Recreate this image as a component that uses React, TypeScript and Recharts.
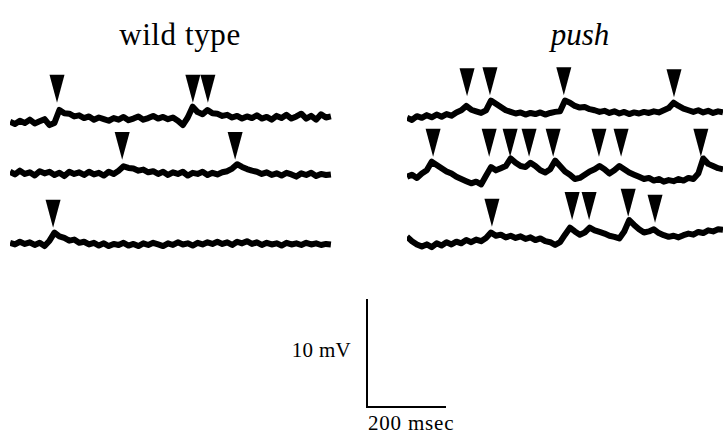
import { ComposedChart, LineChart, Line, Scatter, XAxis, YAxis } from 'recharts';

const SAMPLE_MS = 12.5;

// figure scale (px per unit), taken from the scale bar
const PX_PER_MS = 0.395;
const PX_PER_MV = 10.8;

// wild type, membrane potential in mV relative to each trace's start
const wtTrace1 = [
  0.0, -0.2, 0.1, -0.1, 0.2, -0.15, 0.05, 0.25, -0.3, -0.1,
  1.1, 0.8, 0.75, 0.5, 0.6, 0.35, 0.5, 0.2, 0.4, 0.25,
  0.1, 0.35, 0.2, 0.45, 0.15, 0.3, 0.5, 0.2, 0.35, 0.55,
  0.3, 0.45, 0.25, 0.4, 0.1, -0.3, 0.4, 1.4, 0.9, 0.7,
  1.1, 0.8, 0.75, 0.55, 0.65, 0.4, 0.55, 0.3, 0.5, 0.35,
  0.6, 0.3, 0.45, 0.2, 0.55, 0.35, 0.65, 0.3, 0.5, 0.75,
  0.3, 0.55, 0.2, 0.7, 0.4, 0.5,
];
const wtTrace2 = [
  0.1, -0.15, 0.2, -0.1, 0.05, -0.25, 0.15, -0.05, 0.1, -0.2,
  0.0, -0.3, 0.1, -0.1, 0.05, -0.2, 0.1, -0.15, 0.0, -0.25,
  0.1, -0.1, 0.2, 0.6, 0.45, 0.4, 0.2, 0.3, 0.05, 0.15,
  -0.1, 0.1, -0.2, 0.05, -0.1, 0.1, -0.25, 0.0, -0.1, 0.1,
  -0.2, 0.0, -0.15, 0.05, 0.15, 0.4, 0.8, 0.55, 0.35, 0.2,
  0.1, -0.1, 0.05, -0.2, -0.05, -0.25, 0.0, -0.15, -0.35, -0.05,
  -0.2, 0.0, -0.3, -0.1, -0.2, -0.15,
];
const wtTrace3 = [
  0.0, -0.15, 0.1, -0.1, 0.05, -0.2, 0.0, -0.3, 0.2, 0.95,
  0.6, 0.45, 0.2, 0.3, 0.0, 0.1, -0.15, 0.0, -0.25, -0.05,
  -0.3, -0.1, -0.2, 0.0, -0.25, -0.1, -0.3, -0.05, -0.2, 0.0,
  -0.15, -0.3, -0.05, -0.2, 0.05, -0.15, -0.05, -0.25, 0.0, -0.15,
  0.05, -0.1, 0.1, -0.1, 0.05, -0.2, 0.1, -0.05, 0.15, -0.1,
  0.05, -0.2, 0.0, -0.15, -0.05, -0.25, 0.0, -0.15, -0.05, -0.2,
  0.0, -0.15, -0.05, -0.2, -0.1, -0.15,
];

// push mutant
const pushTrace1 = [
  0.0, -0.2, 0.15, 0.0, 0.25, 0.05, 0.3, 0.1, 0.35, 0.2,
  0.5, 0.7, 1.1, 0.75, 0.6, 0.45, 0.7, 1.6, 1.3, 1.0,
  0.7, 0.55, 0.4, 0.5, 0.3, 0.45, 0.35, 0.5, 0.3, 0.45,
  0.55, 0.6, 1.6, 1.4, 1.1, 0.95, 1.0, 0.8, 0.7, 0.55,
  0.65, 0.45, 0.6, 0.4, 0.55, 0.35, 0.5, 0.4, 0.55, 0.45,
  0.6, 0.5, 0.7, 0.9, 1.4, 1.1, 0.85, 0.7, 0.55, 0.7,
  0.5, 0.65, 0.45, 0.6, 0.5,
];
const pushTrace2 = [
  0.0, 0.2, -0.1, 0.3, 0.6, 1.4, 1.1, 0.8, 0.5, 0.3,
  0.0, -0.2, -0.4, -0.6, -0.45, -0.7, 0.1, 0.9, 0.6, 0.8,
  1.0, 1.7, 1.3, 1.0, 0.9, 1.3, 1.0, 0.6, 0.4, 0.7,
  1.5, 1.0, 0.5, 0.2, -0.2, -0.1, 0.2, 0.5, 0.7, 1.0,
  0.7, 0.3, 0.6, 1.0, 0.7, 0.4, 0.2, 0.0, -0.2, -0.1,
  -0.35, -0.2, -0.45, -0.3, -0.4, -0.2, -0.35, -0.1, -0.2, 0.3,
  1.7, 1.2, 1.0, 0.8, 0.7,
];
const pushTrace3 = [
  0.0, -0.4, -0.7, -0.9, -0.7, -0.95, -0.6, -0.8, -0.5, -0.7,
  -0.45, -0.6, -0.3, -0.5, -0.25, -0.4, -0.1, 0.4, 0.1, 0.2,
  -0.05, 0.1, -0.1, 0.05, -0.2, -0.05, -0.3, -0.15, -0.4, -0.5,
  -0.75, -0.5, 0.2, 0.85, 0.5, 0.2, 0.4, 0.85, 0.6, 0.45,
  0.3, 0.1, 0.0, -0.15, 0.5, 1.55, 1.1, 0.7, 0.4, 0.5,
  0.7, 0.35, 0.15, 0.0, 0.1, -0.05, 0.15, 0.3, 0.2, 0.45,
  0.35, 0.6, 0.5, 0.7, 0.65,
];

// arrowheads: event time (ms) and level of the arrow tip (mV)
const wtArrows1 = [
  { t: 119, v: 1.76 },
  { t: 463, v: 1.76 },
  { t: 501, v: 1.76 },
];
const wtArrows2 = [
  { t: 284, v: 1.2 },
  { t: 570, v: 1.2 },
];
const wtArrows3 = [{ t: 109, v: 1.39 }];

const pushArrows1 = [
  { t: 152, v: 2.0 },
  { t: 210, v: 2.1 },
  { t: 397, v: 2.1 },
  { t: 676, v: 1.9 },
];
const pushArrows2 = [
  { t: 66, v: 1.85 },
  { t: 208, v: 1.85 },
  { t: 261, v: 1.85 },
  { t: 309, v: 1.85 },
  { t: 370, v: 1.85 },
  { t: 486, v: 1.85 },
  { t: 542, v: 1.85 },
  { t: 744, v: 1.85 },
];
const pushArrows3 = [
  { t: 215, v: 0.93 },
  { t: 418, v: 1.57 },
  { t: 461, v: 1.57 },
  { t: 560, v: 1.85 },
  { t: 628, v: 1.3 },
];

const scaleBar = [
  { t: 0, v: 10 },
  { t: 0, v: 0 },
  { t: 200, v: 0 },
];

const toPoints = (vals: number[]) => vals.map((v, i) => ({ t: i * SAMPLE_MS, v }));

const Y_MIN = -1.6;
const Y_MAX = 4.8;

const Arrow = (props: any) => {
  const { cx, cy } = props;
  if (cx == null || cy == null) return null;
  return <polygon points={`${cx},${cy} ${cx - 7.5},${cy - 28} ${cx + 7.5},${cy - 28}`} fill="#000" />;
};

function Trace({ values, arrows, left, baseY, spanMs }: {
  values: number[];
  arrows: { t: number; v: number }[];
  left: number;
  baseY: number;
  spanMs: number;
}) {
  const width = spanMs * PX_PER_MS;
  const height = (Y_MAX - Y_MIN) * PX_PER_MV;
  const top = baseY - Y_MAX * PX_PER_MV;
  return (
    <div style={{ position: 'absolute', left, top }}>
      <ComposedChart width={width} height={height} margin={{ top: 0, right: 0, bottom: 0, left: 0 }}>
        <XAxis type="number" dataKey="t" domain={[0, spanMs]} allowDataOverflow hide />
        <YAxis type="number" dataKey="v" domain={[Y_MIN, Y_MAX]} allowDataOverflow hide />
        <Line
          data={toPoints(values)}
          dataKey="v"
          type="linear"
          stroke="#000"
          strokeWidth={6}
          strokeLinejoin="round"
          dot={false}
          activeDot={false}
          isAnimationActive={false}
        />
        <Scatter data={arrows} dataKey="v" shape={Arrow} isAnimationActive={false} />
      </ComposedChart>
    </div>
  );
}

export default function App() {
  const serif = '"Liberation Serif", "DejaVu Serif", serif';
  return (
    <div style={{ position: 'absolute', left: 0, top: 0, width: 724, height: 434, background: '#fff', overflow: 'hidden', fontFamily: serif, color: '#000' }}>
      <div style={{ position: 'absolute', left: 80, width: 200, top: 19, textAlign: 'center', fontSize: 31, letterSpacing: 0.6, lineHeight: 1 }}>wild type</div>
      <div style={{ position: 'absolute', left: 480, width: 200, top: 19, textAlign: 'center', fontSize: 31, lineHeight: 1, fontStyle: 'italic' }}>push</div>

      <Trace values={wtTrace1} arrows={wtArrows1} left={10} baseY={122} spanMs={820} />
      <Trace values={wtTrace2} arrows={wtArrows2} left={10} baseY={173} spanMs={820} />
      <Trace values={wtTrace3} arrows={wtArrows3} left={10} baseY={243} spanMs={820} />

      <Trace values={pushTrace1} arrows={pushArrows1} left={407} baseY={118} spanMs={800} />
      <Trace values={pushTrace2} arrows={pushArrows2} left={407} baseY={177} spanMs={800} />
      <Trace values={pushTrace3} arrows={pushArrows3} left={407} baseY={237} spanMs={800} />

      {/* scale bar */}
      <div style={{ position: 'absolute', left: 366, top: 298 }}>
        <LineChart width={200 * PX_PER_MS + 2} height={10 * PX_PER_MV + 2} margin={{ top: 1, right: 1, bottom: 1, left: 1 }} data={scaleBar}>
          <XAxis type="number" dataKey="t" domain={[0, 200]} hide />
          <YAxis type="number" domain={[0, 10]} hide />
          <Line dataKey="v" type="linear" stroke="#000" strokeWidth={2} dot={false} activeDot={false} isAnimationActive={false} />
        </LineChart>
      </div>
      <div style={{ position: 'absolute', right: 724 - 351, top: 340, fontSize: 21, letterSpacing: 0.3, lineHeight: 1 }}>10 mV</div>
      <div style={{ position: 'absolute', left: 368, top: 413, fontSize: 21, letterSpacing: 0.8, lineHeight: 1 }}>200 msec</div>
    </div>
  );
}
